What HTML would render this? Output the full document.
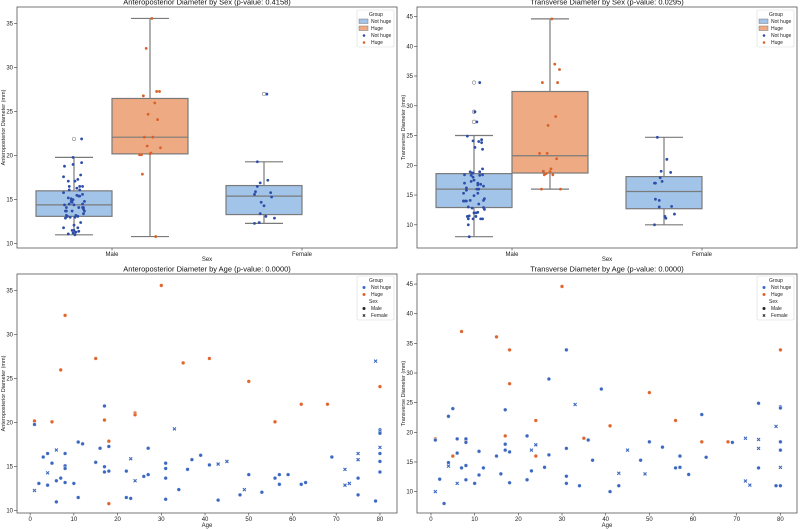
<!DOCTYPE html>
<html><head><meta charset="utf-8">
<style>
html,body{margin:0;padding:0;background:#fff;}
svg{display:block;font-family:"Liberation Sans",sans-serif;}
</style></head>
<body>
<svg id="chart" width="800" height="530" viewBox="0 0 800 530" xmlns="http://www.w3.org/2000/svg"></svg>
<script>
// ---- Data ----
const sexCategories = ["Male","Female"];
const groupNames = ["Not huge","Huge"];
const apAges = [1,5,7,8,15,17,18,18,24,24,30,35,41,50,56,62,68,80,
 1,1,2,3,4,4,4,5,6,6,6,7,8,8,8,8,10,11,11,12,15,16,17,17,17,18,18,22,22,23,23,24,26,27,27,31,31,31,31,33,34,36,37,39,41,43,43,45,48,49,50,53,56,57,57,59,62,63,69,72,72,73,75,75,75,75,79,79,80,80,80,80,80,80,80];
const apValues = [20.2,20.1,26.0,32.2,27.3,20.3,17.9,10.8,21.1,20.9,35.6,26.8,27.3,24.7,20.1,22.1,22.1,24.1,
 19.8,12.3,13.1,16.1,16.5,14.3,12.9,15.4,16.9,13.4,11.0,13.7,16.5,15.1,14.8,13.2,13.1,17.8,11.5,17.6,15.5,17.1,21.9,15.0,14.4,17.3,14.5,14.5,11.5,15.9,11.4,13.4,13.9,17.1,14.1,15.4,14.8,13.7,11.3,19.3,12.4,14.7,15.8,16.3,15.2,15.3,11.2,15.6,11.8,12.4,14.1,12.1,13.7,14.1,13.0,14.1,13.0,13.2,16.1,14.7,12.9,13.1,16.5,15.8,13.7,11.8,27.0,11.1,19.2,19.0,18.8,17.2,16.5,15.6,14.4];
const apGroup = [1,1,1,1,1,1,1,1,1,1,1,1,1,1,1,1,1,1,
 0,0,0,0,0,0,0,0,0,0,0,0,0,0,0,0,0,0,0,0,0,0,0,0,0,0,0,0,0,0,0,0,0,0,0,0,0,0,0,0,0,0,0,0,0,0,0,0,0,0,0,0,0,0,0,0,0,0,0,0,0,0,0,0,0,0,0,0,0,0,0,0,0,0,0];
const apSex = [0,0,0,0,0,0,0,0,0,0,0,0,0,0,0,0,0,0,
 0,1,0,0,0,1,0,0,1,0,0,0,0,0,0,0,0,0,0,0,0,0,0,0,0,0,0,0,0,1,0,1,0,0,0,0,0,0,0,1,0,0,0,0,0,1,0,1,0,1,0,0,0,0,0,0,0,0,0,1,1,1,1,1,0,0,1,0,0,0,0,1,0,0,0];
const trAges = [1,5,7,8,15,17,18,18,24,24,30,35,41,50,56,62,68,80,
 1,1,2,3,4,4,4,5,6,6,6,7,8,8,8,8,10,11,11,12,15,16,17,17,17,18,18,22,22,23,23,24,26,27,27,31,31,31,31,33,34,36,37,39,41,43,43,45,48,49,50,53,56,57,57,59,62,63,69,72,72,73,75,75,75,75,79,79,80,80,80,80,80,80];
const trValues = [18.9,16.0,37.0,18.6,36.1,19.4,33.9,28.2,22.0,16.0,44.6,19.0,21.1,26.7,22.0,18.4,18.4,33.9,
 18.7,10.0,12.1,8.0,22.7,14.9,14.3,24.0,18.9,16.5,11.4,14.0,18.9,18.3,14.4,12.0,11.4,16.8,12.8,14.0,16.0,13.0,23.8,18.0,17.0,16.7,11.5,19.4,12.0,17.0,13.5,17.9,14.1,29.0,16.2,33.9,17.3,12.6,11.4,24.7,11.0,18.7,15.3,27.3,10.0,13.1,11.0,17.0,15.3,13.0,18.4,17.5,14.0,16.0,14.1,12.9,23.0,15.8,18.3,19.0,11.8,11.1,24.9,18.8,17.3,14.0,21.0,11.0,24.3,24.1,18.4,17.0,14.1,11.0];
const trGroup = [1,1,1,1,1,1,1,1,1,1,1,1,1,1,1,1,1,1,
 0,0,0,0,0,0,0,0,0,0,0,0,0,0,0,0,0,0,0,0,0,0,0,0,0,0,0,0,0,0,0,0,0,0,0,0,0,0,0,0,0,0,0,0,0,0,0,0,0,0,0,0,0,0,0,0,0,0,0,0,0,0,0,0,0,0,0,0,0,0,0,0,0,0];
const trSex = [0,0,0,0,0,0,0,0,0,0,0,0,0,0,0,0,0,0,
 0,1,0,0,0,0,1,0,0,0,1,0,0,0,0,0,0,0,0,0,0,0,0,0,0,0,0,0,0,1,0,1,0,0,0,0,0,0,0,1,0,0,0,0,0,1,0,1,0,1,0,0,0,0,0,0,0,0,0,1,1,1,0,1,1,0,1,0,0,0,0,0,1,0];
// Box stats: [sexIdx, groupIdx, whiskerLow, q1, median, q3, whiskerHigh]
const apBoxes = [[0,0,11.0,13.1,14.4,16.0,19.8],[0,1,10.8,20.2,22.1,26.5,35.6],[1,0,12.3,13.3,15.4,16.6,19.3]];
const apOutliers = [[0,0,21.9],[1,0,27.0]];
const trBoxes = [[0,0,8.0,12.9,16.0,18.6,25.0],[0,1,16.0,18.7,21.6,32.4,44.6],[1,0,10.0,12.7,15.6,18.1,24.7]];
const trOutliers = [[0,0,33.9],[0,0,29.0],[0,0,27.3]];
const apTicks = [10,15,20,25,30,35];
const trTicks = [10,15,20,25,30,35,40,45];
const ageTicks = [0,10,20,30,40,50,60,70,80];

// ---- Drawing ----
const NS="http://www.w3.org/2000/svg";
const svg=document.getElementById('chart');
function el(tag,attrs,parent){const e=document.createElementNS(NS,tag);for(const k in attrs)e.setAttribute(k,attrs[k]);(parent||svg).appendChild(e);return e;}
function txt(s,attrs,parent){const e=el('text',attrs,parent);e.textContent=s;return e;}
const BLUE_FILL="#a2c4e9",ORANGE_FILL="#eeaa82",EDGE="#7a7a7a";
const PT=["#2d4ea8","#d9622b"], SC=["#3a68c0","#e0652d"];

function makePanel(name,fr,ylim,xlim,title,ylab,xlab,ticksY,ticksX,xLabels,xlabOff){
  const g=el('g',{});
  
  
  const sy=v=>fr.y1-(v-ylim[0])/(ylim[1]-ylim[0])*(fr.y1-fr.y0);
  const sx=v=>fr.x0+(v-xlim[0])/(xlim[1]-xlim[0])*(fr.x1-fr.x0);
  const yt=el('g',{},g);
  ticksY.forEach(t=>{const y=sy(t);el('line',{x1:fr.x0-3,x2:fr.x0,y1:y,y2:y,stroke:'#333','stroke-width':0.6},yt);
    txt(String(t),{x:fr.x0-4,y:y+2,'font-size':6,'text-anchor':'end',fill:'#222'},yt);});
  const xt=el('g',{},g);
  ticksX.forEach((t,i)=>{const x=sx(t);el('line',{x1:x,x2:x,y1:fr.y1,y2:fr.y1+2.5,stroke:'#333','stroke-width':0.6},xt);
    txt(xLabels?xLabels[i]:String(t),{x:x,y:fr.y1+8,'font-size':6,'text-anchor':'middle',fill:'#222'},xt);});
  const tt=txt(title,{x:(fr.x0+fr.x1)/2,y:fr.y0-2.3,'font-size':7.5,'text-anchor':'middle',fill:'#111'},g);
  
  const xl=txt(xlab,{x:(fr.x0+fr.x1)/2,y:fr.y1+xlabOff,'font-size':6,'text-anchor':'middle',fill:'#222'},g);
  
  const cy=(fr.y0+fr.y1)/2;
  const yl=txt(ylab,{x:fr.x0-12,y:cy,'font-size':5.5,'text-anchor':'middle',fill:'#222',transform:`rotate(-90 ${fr.x0-12} ${cy})`},g);
  
  return {g,sx,sy};
}
function frame(g,fr){const r=el('rect',{x:fr.x0,y:fr.y0,width:fr.x1-fr.x0,height:fr.y1-fr.y0,fill:'none',stroke:'#555','stroke-width':0.8},g);
  }

function boxPanel(name,fr,ylim,title,ylab,ticks,boxes,outliers,vals,groups,sexes){
  const p=makePanel(name,fr,ylim,[-0.5,1.5],title,ylab,'Sex',ticks,[0,1],sexCategories,13);
  const {g,sx,sy}=p;
  const bw=0.4;
  boxes.forEach(b=>{
    const [s,gr,wl,q1,md,q3,wh]=b;
    const c=s+(gr===0?-0.2:0.2);
    const bg=el('g',{},g);
    
    
    const xc=sx(c),xl=sx(c-bw/2),xr=sx(c+bw/2),xw1=sx(c-bw/4),xw2=sx(c+bw/4);
    el('line',{x1:xc,x2:xc,y1:sy(wl),y2:sy(q1),stroke:EDGE,'stroke-width':1.2},bg);
    el('line',{x1:xc,x2:xc,y1:sy(q3),y2:sy(wh),stroke:EDGE,'stroke-width':1.2},bg);
    el('line',{x1:xw1,x2:xw2,y1:sy(wl),y2:sy(wl),stroke:EDGE,'stroke-width':1.2},bg);
    el('line',{x1:xw1,x2:xw2,y1:sy(wh),y2:sy(wh),stroke:EDGE,'stroke-width':1.2},bg);
    el('rect',{x:xl,y:sy(q3),width:xr-xl,height:sy(q1)-sy(q3),fill:gr===0?BLUE_FILL:ORANGE_FILL,stroke:EDGE,'stroke-width':1.2},bg);
    el('line',{x1:xl,x2:xr,y1:sy(md),y2:sy(md),stroke:EDGE,'stroke-width':1.2},bg);
  });
  outliers.forEach(o=>{const c=o[0]+(o[1]===0?-0.2:0.2);
    const oc=el('circle',{cx:sx(c),cy:sy(o[2]),r:1.8,fill:'none',stroke:'#777','stroke-width':0.6},g);
    });
  vals.forEach((v,i)=>{const c=sexes[i]+(groups[i]===0?-0.2:0.2);
    const j=(((i*37+11)%23)/22-0.5)*0.11;
    const pt=el('circle',{cx:sx(c+j),cy:sy(v),r:1.4,fill:PT[groups[i]]},g);
    });
  frame(g,fr);
  legendBox(g,fr.x1-40,fr.y0+3,false);
}
function scatterPanel(name,fr,ylim,xlim,title,ylab,ticks,ages,vals,groups,sexes){
  const p=makePanel(name,fr,ylim,xlim,title,ylab,'Age',ticks,ageTicks,null,14);
  const {g,sx,sy}=p;
  vals.forEach((v,i)=>{
    const x=sx(ages[i]),y=sy(v);let m;
    if(sexes[i]===0){m=el('circle',{cx:x,cy:y,r:1.9,fill:SC[groups[i]],stroke:'#fff','stroke-width':0.4},g);}
    else{m=el('path',{d:`M${x-1.5},${y-1.5}L${x+1.5},${y+1.5}M${x-1.5},${y+1.5}L${x+1.5},${y-1.5}`,stroke:SC[groups[i]],'stroke-width':1.1},g);}
    
  });
  frame(g,fr);
  legendBox(g,fr.x1-40,fr.y0+2,true);
}
function legendBox(g,x,y,withSex){
  const lg=el('g',{},g);
  const h=withSex?44:37;
  el('rect',{x:x,y:y,width:37,height:h,fill:'#fff',stroke:'#ddd','stroke-width':0.6,rx:1.5},lg);
  txt('Group',{x:x+19,y:y+6,'font-size':5,'text-anchor':'middle',fill:'#222'},lg);
  let entries;
  if(!withSex) entries=[['patch',0,'Not huge'],['patch',1,'Huge'],['dot',0,'Not huge'],['dot',1,'Huge']];
  else entries=[['sdot',0,'Not huge'],['sdot',1,'Huge'],['head',0,'Sex'],['kdot',0,'Male'],['kx',0,'Female']];
  entries.forEach((e,i)=>{const yy=y+13+i*7;
    const en=el('g',{},lg);
    if(e[0]==='patch')el('rect',{x:x+2,y:yy-4,width:9,height:4.5,fill:e[1]===0?BLUE_FILL:ORANGE_FILL,stroke:EDGE,'stroke-width':0.5},en);
    if(e[0]==='dot')el('circle',{cx:x+7,cy:yy-1.5,r:1.3,fill:PT[e[1]]},en);
    if(e[0]==='sdot')el('circle',{cx:x+7,cy:yy-1.5,r:1.5,fill:SC[e[1]]},en);
    if(e[0]==='kdot')el('circle',{cx:x+7,cy:yy-1.5,r:1.5,fill:'#222'},en);
    if(e[0]==='kx')el('path',{d:`M${x+5.8},${yy-2.7}L${x+8.2},${yy-0.3}M${x+5.8},${yy-0.3}L${x+8.2},${yy-2.7}`,stroke:'#222','stroke-width':0.9},en);
    txt(e[2],{x:e[0]==='head'?x+12:x+14,y:yy,'font-size':5,fill:'#222'},en);
  });
}

boxPanel('ap-by-sex-panel',{x0:17,x1:397,y0:7,y1:248},[9.5,36.9],'Anteroposterior Diameter by Sex (p-value: 0.4158)','Anteroposterior Diameter (mm)',apTicks,apBoxes,apOutliers,apValues,apGroup,apSex);
boxPanel('tr-by-sex-panel',{x0:417,x1:797,y0:7,y1:248},[6.1,46.6],'Transverse Diameter by Sex (p-value: 0.0295)','Transverse Diameter (mm)',trTicks,trBoxes,trOutliers,trValues,trGroup,trSex);
scatterPanel('ap-by-age-panel',{x0:17,x1:397,y0:274,y1:513},[9.74,36.9],[-3,83.9],'Anteroposterior Diameter by Age (p-value: 0.0000)','Anteroposterior Diameter (mm)',apTicks,apAges,apValues,apGroup,apSex);
scatterPanel('tr-by-age-panel',{x0:417,x1:797,y0:274,y1:513},[6.4,46.7],[-3.2,83.8],'Transverse Diameter by Age (p-value: 0.0000)','Transverse Diameter (mm)',trTicks,trAges,trValues,trGroup,trSex);
</script>
</body></html>
